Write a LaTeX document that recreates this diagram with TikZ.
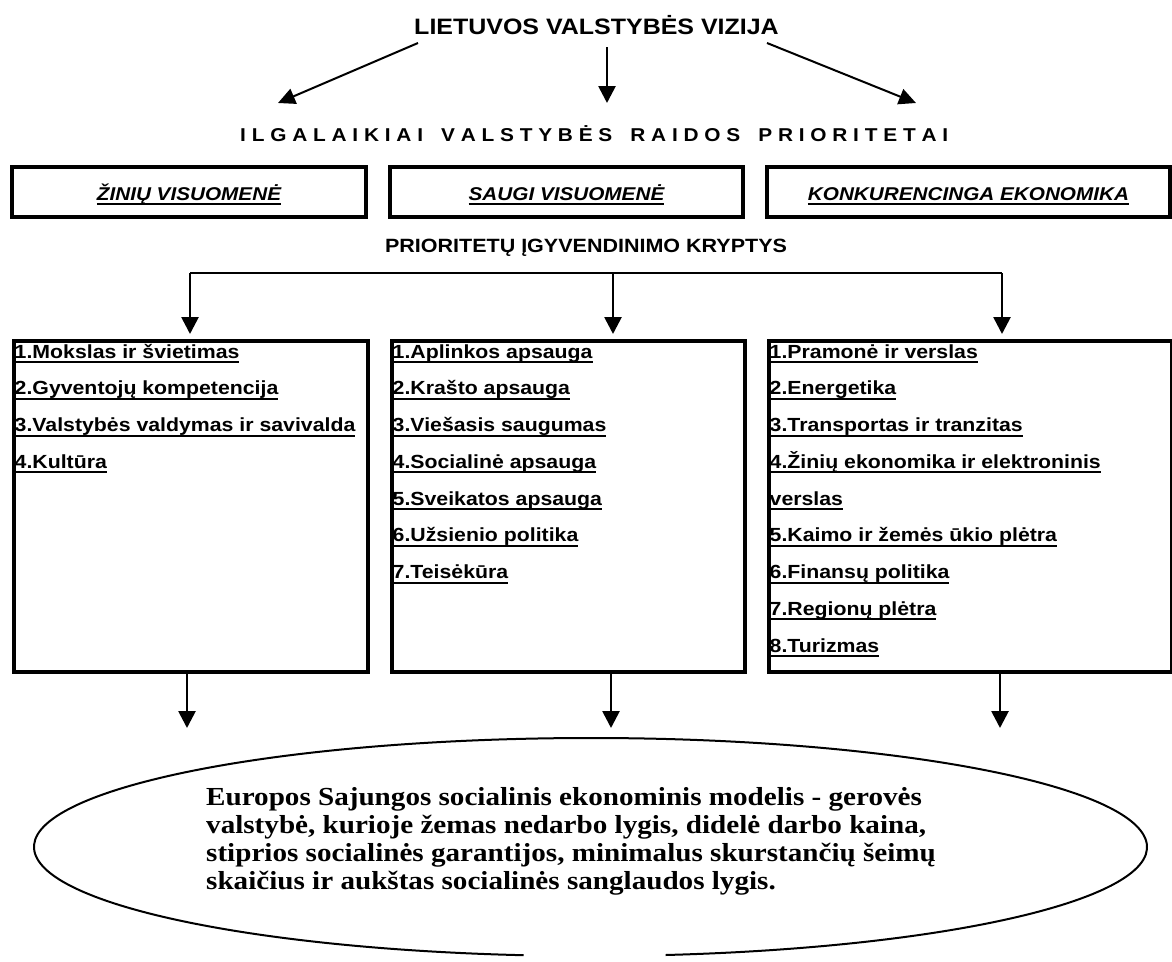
\documentclass[tikz,border=0pt]{standalone}
\usepackage{fontspec}
\setmainfont{Liberation Sans}
\newfontfamily\hsans[FakeStretch=1.12]{Liberation Sans}
\newfontfamily\hserif[FakeStretch=1.12]{Liberation Serif}
\usetikzlibrary{arrows.meta,calc}
\newcommand\ulx[1]{\setbox0\hbox{#1}\rlap{\rule[-5pt]{\wd0}{2pt}}\box0}
\tikzset{
  box/.style={draw, line width=4pt, inner sep=0pt},
  conn/.style={line width=2.7pt},
  arr/.style={line width=2.7pt, -{Triangle[width=17pt,length=17pt]}},
  darr/.style={line width=2pt, -{Triangle[width=16pt,length=17pt]}},
  titlef/.style={font=\hsans\bfseries\fontsize{22.3}{26}\selectfont, inner sep=0pt},
  ilgf/.style={font=\hsans\bfseries\fontsize{18.6}{22}\selectfont, inner sep=0pt},
  hdr/.style={box, font=\hsans\bfseries\itshape\fontsize{18.5}{22}\selectfont, text height=16pt, text depth=0pt, minimum height=50pt},
  itm/.style={font=\hsans\bfseries\fontsize{19}{22}\selectfont, inner sep=0pt, anchor=base west},
  etxt/.style={font=\hserif\bfseries\fontsize{26}{28}\selectfont, inner sep=0pt, align=left, anchor=north west}
}
\begin{document}
\begin{tikzpicture}[x=1pt,y=-1pt]
\useasboundingbox (0,0) rectangle (1172,961);
% title
\node[titlef, anchor=base] (title) at (596.5,34) {LIETUVOS VALSTYBĖS VIZIJA};
\coordinate (s1) at (418,43);
\coordinate (s2) at (607,47);
\coordinate (s3) at (767,43);
\coordinate (e1) at (278,103);
\coordinate (e2) at (607,103);
\coordinate (e3) at (916,103);
\draw[darr] (s1) -- (e1);
\draw[arr] (s2) -- (e2);
\draw[darr] (s3) -- (e3);
\node[ilgf, anchor=base west] (ilg) at (240,141.7) {I L G A L A I K I A I\hspace{18pt}V A L S T Y B Ė S\hspace{18pt}R A I D O S\hspace{18pt}P R I O R I T E T A I};
% header boxes
\node[hdr, minimum width=354pt] (h1) at (189,192) {\ulx{ŽINIŲ VISUOMENĖ}};
\node[hdr, minimum width=353pt] (h2) at (566.5,192) {\ulx{SAUGI VISUOMENĖ}};
\node[hdr, minimum width=403pt] (h3) at (968.5,192) {\ulx{KONKURENCINGA EKONOMIKA}};
\node[font=\hsans\bfseries\fontsize{19.2}{22}\selectfont, inner sep=0pt, anchor=base] (kr) at (586,252) {PRIORITETŲ ĮGYVENDINIMO KRYPTYS};
% list boxes
\node[box, anchor=north west, minimum width=354pt, minimum height=331pt] (b1) at (12,339) {};
\node[box, anchor=north west, minimum width=353pt, minimum height=331pt] (b2) at (390,339) {};
\node[box, anchor=north west, minimum width=403pt, minimum height=331pt] (b3) at (767,339) {};
% bracket connector
\coordinate (j1) at (190,273);
\coordinate (j2) at (613,273);
\coordinate (j3) at (1002,273);
\draw[conn] (j1) -- (j3);
\draw[arr] (j1) -- ($(j1 |- b1.north)+(0,-5)$);
\draw[arr] (j2) -- ($(j2 |- b2.north)+(0,-5)$);
\draw[arr] (j3) -- ($(j3 |- b3.north)+(0,-5)$);
% items
\foreach \t [count=\i] in {1.Mokslas ir švietimas, 2.Gyventojų kompetencija, 3.Valstybės valdymas ir savivalda, 4.Kultūra}
  \node[itm] (a\i) at (14.5,{358+36.75*(\i-1)}) {\ulx{\t}};
\foreach \t [count=\i] in {1.Aplinkos apsauga, 2.Krašto apsauga, 3.Viešasis saugumas, 4.Socialinė apsauga, 5.Sveikatos apsauga, 6.Užsienio politika, 7.Teisėkūra}
  \node[itm] (m\i) at (392.5,{358+36.75*(\i-1)}) {\ulx{\t}};
\foreach \t [count=\i] in {1.Pramonė ir verslas, 2.Energetika, 3.Transportas ir tranzitas, 4.Žinių ekonomika ir elektroninis, verslas, 5.Kaimo ir žemės ūkio plėtra, 6.Finansų politika, 7.Regionų plėtra, 8.Turizmas}
  \node[itm] (r\i) at (769.5,{358+36.75*(\i-1)}) {\ulx{\t}};
% lower arrows
\coordinate (d1) at (187,728);
\coordinate (d2) at (611,728);
\coordinate (d3) at (1000,728);
\draw[arr] (b1.south -| d1) -- (d1);
\draw[arr] (b2.south -| d2) -- (d2);
\draw[arr] (b3.south -| d3) -- (d3);
% ellipse
\coordinate (ec) at (590.5,847);
\draw[line width=2pt] ($(ec)+(277.75:556.5pt and 109pt)$) arc[start angle=277.75, end angle=623.1, x radius=556.5pt, y radius=109pt];
\node[etxt] (etext) at (206,787) {Europos Sajungos socialinis ekonominis modelis - gerovės\\valstybė, kurioje žemas nedarbo lygis, didelė darbo kaina,\\stiprios socialinės garantijos, minimalus skurstančių šeimų\\skaičius ir aukštas socialinės sanglaudos lygis.};
\end{tikzpicture}
\end{document}
